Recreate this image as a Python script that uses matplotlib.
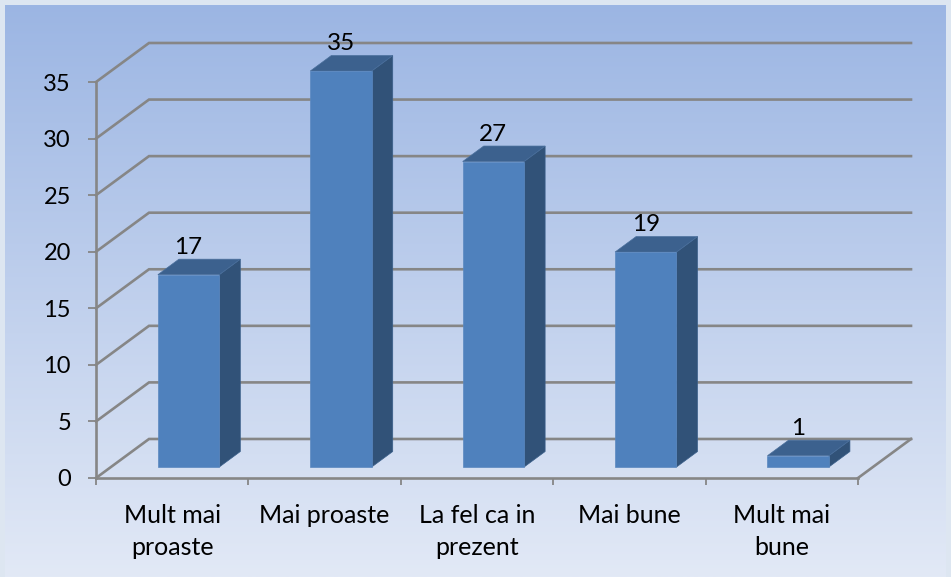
import numpy as np
import matplotlib
matplotlib.use('Agg')
import matplotlib.pyplot as plt
from matplotlib.patches import Polygon

categorii = ['Mult mai\nproaste', 'Mai proaste', 'La fel ca in\nprezent', 'Mai bune', 'Mult mai\nbune']
valori = [17, 35, 27, 19, 1]
ticks_y = [0, 5, 10, 15, 20, 25, 30, 35]

plt.rcParams['font.family'] = ['Lato', 'DejaVu Sans']

W, H = 951, 577
fig = plt.figure(figsize=(W / 100, H / 100), dpi=100)

# fundal cu gradient
bg = fig.add_axes([0, 0, 1, 1], zorder=0)
bg.set_axis_off()
sus = np.array([0x9b, 0xb5, 0xe3]) / 255
jos = np.array([0xe2, 0xe9, 0xf6]) / 255
t = np.linspace(0, 1, 300)[:, None, None]
bg.imshow(sus * (1 - t) + jos * t, aspect='auto', extent=[0, 1, 0, 1])
margine = '#dde6f1'
bg.axvspan(0, 5 / W, color=margine, lw=0)
bg.axvspan(1 - 5 / W, 1, color=margine, lw=0)
bg.axhspan(1 - 5 / H, 1, color=margine, lw=0)
bg.set_xlim(0, 1)
bg.set_ylim(0, 1)

# axa principala = peretele din fata
ax = fig.add_axes([96 / W, (H - 478) / H, 762 / W, 396 / H], zorder=1)
ax.patch.set_alpha(0)
ax.set_xlim(0, len(categorii))
ax.set_ylim(0, 35)

# adancimea in unitati de date
dx = 53 / 152.4
dy = 39 / 11.31
gri = '#868686'

for v in ticks_y:
    ax.plot([0, dx, len(categorii) + dx], [v, v + dy, v + dy], color=gri, lw=1.9,
            clip_on=False, zorder=1, solid_joinstyle='miter')
ax.plot([len(categorii), len(categorii) + dx], [0, dy], color=gri, lw=1.9, clip_on=False, zorder=1)

# coloanele 3D
lat = 0.403
baza_x = 0.406
baza_y = 0.97
adx = 0.138
ady = 1.37
for i, v in enumerate(valori):
    x0 = i + baza_x
    x1 = x0 + lat
    y0 = baza_y
    y1 = baza_y + v
    ax.add_patch(Polygon([(x1, y0), (x1 + adx, y0 + ady), (x1 + adx, y1 + ady), (x1, y1)],
                         fc='#315278', ec='#3a5f8a', lw=0.5, clip_on=False, zorder=3))
    ax.add_patch(Polygon([(x0, y1), (x0 + adx, y1 + ady), (x1 + adx, y1 + ady), (x1, y1)],
                         fc='#3c618e', ec='#4a6f9c', lw=0.5, clip_on=False, zorder=3))
    ax.add_patch(Polygon([(x0, y0), (x1, y0), (x1, y1), (x0, y1)],
                         fc='#4f81bd', ec='#5a88c0', lw=0.5, clip_on=False, zorder=4))
    ax.text(x0 + lat / 2, y1 + 1.5, str(v), ha='center', va='bottom', fontsize=17.5, color='black', zorder=5)

for s in ['top', 'right']:
    ax.spines[s].set_visible(False)
for s in ['left', 'bottom']:
    ax.spines[s].set_color(gri)
    ax.spines[s].set_linewidth(1.9)
    ax.spines[s].set_zorder(2)

ax.set_yticks(ticks_y)
ax.set_xticks(range(len(categorii) + 1))
ax.set_xticklabels([])
ax.set_xticks(np.arange(len(categorii)) + 0.5, labels=categorii, minor=True)
ax.tick_params(axis='x', which='major', length=5, width=1.3, color=gri)
ax.tick_params(axis='x', which='minor', length=0, pad=19, labelsize=18)
ax.tick_params(axis='y', length=6, width=1.3, color=gri, labelsize=17, pad=12)
for lab in ax.get_xticklabels(minor=True):
    lab.set_linespacing(1.45)

fig.savefig('out.png', dpi=100)
